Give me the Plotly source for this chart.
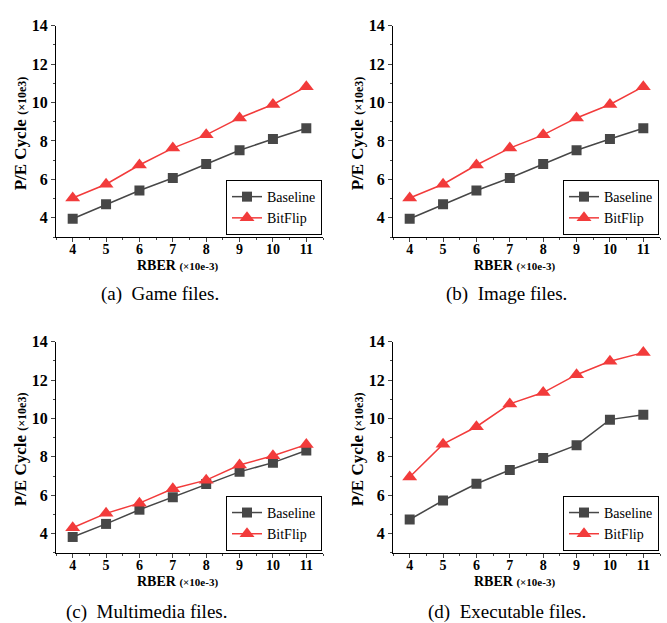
import plotly.graph_objects as go

# RBER values (x10e-3) on the x axis
rber = [4, 5, 6, 7, 8, 9, 10, 11]

# P/E cycle endurance (x10e3) for each file type
game_baseline = [3.95, 4.70, 5.42, 6.07, 6.80, 7.52, 8.10, 8.66]
game_bitflip = [5.03, 5.75, 6.75, 7.63, 8.32, 9.20, 9.90, 10.83]
image_baseline = [3.95, 4.70, 5.42, 6.07, 6.80, 7.52, 8.10, 8.66]
image_bitflip = [5.03, 5.75, 6.75, 7.63, 8.32, 9.20, 9.90, 10.83]
multimedia_baseline = [3.83, 4.51, 5.25, 5.90, 6.59, 7.22, 7.70, 8.33]
multimedia_bitflip = [4.31, 5.06, 5.59, 6.34, 6.79, 7.58, 8.06, 8.64]
executable_baseline = [4.74, 5.73, 6.60, 7.32, 7.94, 8.61, 9.94, 10.20]
executable_bitflip = [6.95, 8.66, 9.57, 10.76, 11.35, 12.28, 12.98, 13.43]

captions = ["(a)  Game files.", "(b)  Image files.",
            "(c)  Multimedia files.", "(d)  Executable files."]
series_names = ["Baseline", "BitFlip"]
y_ticks = [4, 6, 8, 10, 12, 14]
x_ticks = rber

panels = [
    (game_baseline, game_bitflip),
    (image_baseline, image_bitflip),
    (multimedia_baseline, multimedia_bitflip),
    (executable_baseline, executable_bitflip),
]

W, H = 667, 623
SERIF = "'Liberation Serif', 'Times New Roman', Times, serif"
GRAY = "#474747"
RED = "#f23b3b"

# panel boxes in pixels: (left, right, top, bottom)
boxes = [
    (56, 323, 18, 232),
    (393, 660, 18, 232),
    (56, 323, 338, 552),
    (393, 660, 338, 552),
]
caption_pos = [(160, 290), (506, 290), (146, 612), (507, 612)]

fig = go.Figure()
layout = dict(
    width=W, height=H,
    margin=dict(l=0, r=0, t=0, b=0),
    paper_bgcolor="white", plot_bgcolor="white",
    font=dict(family=SERIF, color="black"),
    annotations=[],
)

for i, ((base, flip), (l, r, t, b)) in enumerate(zip(panels, boxes)):
    n = i + 1
    xa = "x" if n == 1 else f"x{n}"
    ya = "y" if n == 1 else f"y{n}"
    lg = "legend" if n == 1 else f"legend{n}"
    fig.add_trace(go.Scatter(
        x=rber, y=base, name=series_names[0], xaxis=xa, yaxis=ya, legend=lg,
        mode="lines+markers",
        line=dict(color=GRAY, width=1.5),
        marker=dict(symbol="square", size=10, color=GRAY),
    ))
    fig.add_trace(go.Scatter(
        x=rber, y=flip, name=series_names[1], xaxis=xa, yaxis=ya, legend=lg,
        mode="lines+markers",
        line=dict(color=RED, width=1.5),
        marker=dict(symbol="triangle-up", size=13, color=RED),
    ))

    xd = [l / W, r / W]
    yd = [1 - b / H, 1 - t / H]
    layout["xaxis" if n == 1 else f"xaxis{n}"] = dict(
        domain=xd, anchor=ya, range=[3.5, 11.5],
        tickvals=x_ticks, ticks="outside", ticklen=4, tickwidth=1,
        ticklabelstandoff=-5,
        minor=dict(ticks="outside", ticklen=2, dtick=0.5, tick0=3.5),
        showline=True, linecolor="black", linewidth=1,
        showgrid=False, zeroline=False, fixedrange=True,
        tickfont=dict(family=SERIF, size=14, weight="bold", color="black"),
    )
    layout["yaxis" if n == 1 else f"yaxis{n}"] = dict(
        domain=yd, anchor=xa, range=[3, 14],
        tickvals=y_ticks, ticks="outside", ticklen=4, tickwidth=1,
        minor=dict(ticks="outside", ticklen=2, dtick=1, tick0=3),
        showline=True, linecolor="black", linewidth=1,
        showgrid=False, zeroline=False, fixedrange=True,
        tickfont=dict(family=SERIF, size=16, weight="bold", color="black"),
    )
    layout[lg] = dict(
        x=(r - 1) / W, y=1 - (b - 2) / H, xanchor="right", yanchor="bottom",
        xref="paper", yref="paper",
        bordercolor="black", borderwidth=1, bgcolor="white",
        font=dict(family=SERIF, size=14, color="black"),
        itemwidth=30, tracegroupgap=0,
    )
    # axis titles
    layout["annotations"].append(dict(
        text="<b>P/E Cycle</b> <b><span style='font-size:12px'>(×10e3)</span></b>",
        x=(l - 36) / W, y=1 - ((t + b) / 2 + 2) / H, xref="paper", yref="paper",
        textangle=-90, showarrow=False, xanchor="center", yanchor="middle",
        font=dict(family=SERIF, size=17, color="black"),
    ))
    layout["annotations"].append(dict(
        text="<b>RBER</b> <b><span style='font-size:11px'>(×10e-3)</span></b>",
        x=((l + r) / 2 - 12) / W, y=1 - (b + 29) / H, xref="paper", yref="paper",
        showarrow=False, xanchor="center", yanchor="middle",
        font=dict(family=SERIF, size=14, color="black"),
    ))
    cx, cy = caption_pos[i]
    layout["annotations"].append(dict(
        text=captions[i], x=cx / W, y=1 - cy / H, xref="paper", yref="paper",
        showarrow=False, xanchor="center", yanchor="middle",
        font=dict(family=SERIF, size=19, color="black"),
    ))

fig.update_layout(**layout)
fig.write_html("out.html")
